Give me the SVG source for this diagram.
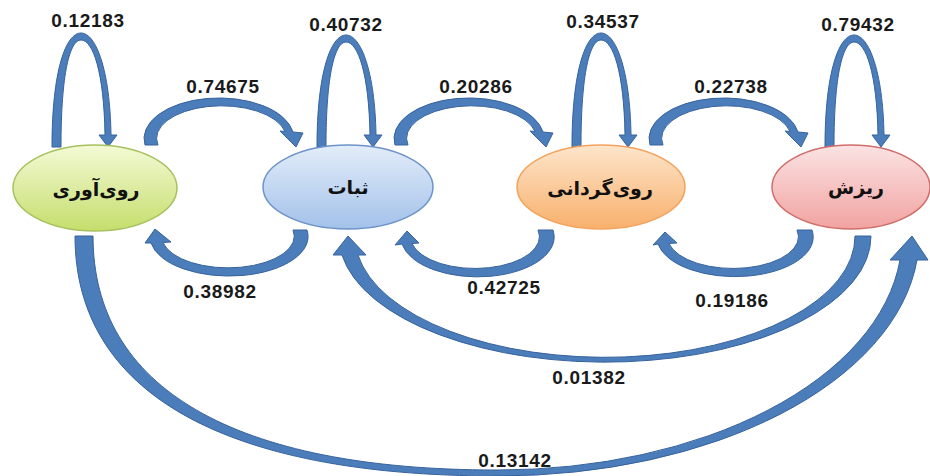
<svg xmlns="http://www.w3.org/2000/svg" width="930" height="476" viewBox="0 0 930 476">
<defs>
<linearGradient id="gGreen" x1="0" y1="0" x2="0" y2="1"><stop offset="0" stop-color="#f4fad6"/><stop offset="1" stop-color="#c5de6c"/></linearGradient>
<linearGradient id="gBlue" x1="0" y1="0" x2="0" y2="1"><stop offset="0" stop-color="#e3edf9"/><stop offset="1" stop-color="#a3c1ea"/></linearGradient>
<linearGradient id="gOrange" x1="0" y1="0" x2="0" y2="1"><stop offset="0" stop-color="#fde5cb"/><stop offset="1" stop-color="#f8b06c"/></linearGradient>
<linearGradient id="gRed" x1="0" y1="0" x2="0" y2="1"><stop offset="0" stop-color="#fbe3e3"/><stop offset="1" stop-color="#f1a3a1"/></linearGradient>
<style>
.arrow{fill:#4a7dba;stroke:#37629c;stroke-width:1;stroke-linejoin:round}
.lbl{font-family:"Liberation Sans",Arial,sans-serif;font-weight:bold;font-size:19px;fill:#1a1a1a;text-anchor:middle;letter-spacing:0.7px}
.ntxt{font-family:"DejaVu Sans",sans-serif;font-weight:bold;font-size:19px;fill:#111;text-anchor:middle}
</style>
</defs>
<rect width="930" height="476" fill="#ffffff"/>
<g id="connectors">
  <g id="loop-ruyavari">
    <path class="arrow" d="M52,147 C52,70 66,33 81,33 C96,33 110,70 111,135 L117,135 L108,147 L99,135 L105,135 C104,72 93,40 81,40 C70,40 61,72 61,147 Z"/>
    <text class="lbl" x="88" y="27">0.12183</text>
  </g>
  <g id="loop-sabat">
    <path class="arrow" transform="translate(265,2)" d="M52,145 C52,70 66,33 81,33 C96,33 110,70 111,133 L117,133 L108,145 L99,133 L105,133 C104,72 93,40 81,40 C70,40 61,72 61,145 Z"/>
    <text class="lbl" x="346" y="31">0.40732</text>
  </g>
  <g id="loop-ruygardani">
    <path class="arrow" transform="translate(520,0)" d="M52,147 C52,70 66,33 81,33 C96,33 110,70 111,135 L117,135 L108,147 L99,135 L105,135 C104,72 93,40 81,40 C70,40 61,72 61,147 Z"/>
    <text class="lbl" x="603" y="28">0.34537</text>
  </g>
  <g id="loop-rizesh">
    <path class="arrow" transform="translate(773,2)" d="M52,145 C52,70 66,33 81,33 C96,33 110,70 111,133 L117,133 L108,145 L99,133 L105,133 C104,72 93,40 81,40 C70,40 61,72 61,145 Z"/>
    <text class="lbl" x="858" y="31">0.79432</text>
  </g>
  <g id="edge-ruyavari-sabat">
    <path class="arrow" d="M145,145 A74,40 0 0 1 293,132 L303,133 L296,147 L280,131 L285,131.5 A64,32 0 0 0 158,145 Z"/>
    <text class="lbl" x="223" y="93">0.74675</text>
  </g>
  <g id="edge-sabat-ruygardani">
    <path class="arrow" transform="translate(250,0)" d="M145,145 A74,40 0 0 1 293,132 L303,133 L296,147 L280,131 L285,131.5 A64,32 0 0 0 158,145 Z"/>
    <text class="lbl" x="476" y="93">0.20286</text>
  </g>
  <g id="edge-ruygardani-rizesh">
    <path class="arrow" transform="translate(505,0)" d="M145,145 A74,40 0 0 1 293,132 L303,133 L296,147 L280,131 L285,131.5 A64,32 0 0 0 158,145 Z"/>
    <text class="lbl" x="731" y="93">0.22738</text>
  </g>
  <g id="edge-sabat-ruyavari">
    <path class="arrow" d="M307,230 A78,39 0 0 1 151,243 L145,243 L155,229 L171,242 L163,242.5 A65,31 0 0 0 293,230 Z"/>
    <text class="lbl" x="220" y="298">0.38982</text>
  </g>
  <g id="edge-ruygardani-sabat">
    <path class="arrow" d="M553,230 A75,39 0 0 1 402,244 L395,245 L407,231 L419,243 L412,243.5 A63,31 0 0 0 538,230 Z"/>
    <text class="lbl" x="504" y="294">0.42725</text>
  </g>
  <g id="edge-rizesh-ruygardani">
    <path class="arrow" d="M812,230 A77,39 0 0 1 658,244 L653,245 L665,232 L677,243 L669,243.5 A64,31 0 0 0 797,230 Z"/>
    <text class="lbl" x="732" y="307">0.19186</text>
  </g>
  <g id="edge-rizesh-sabat">
    <path class="arrow" d="M871,236 A266,126 0 0 1 342,255 L333,255 L348,236 L366,255 L358,255 A250,121 0 0 0 855,236 Z"/>
    <text class="lbl" x="589" y="384">0.01382</text>
  </g>
  <g id="edge-ruyavari-rizesh">
    <path class="arrow" d="M75,236 C75,392 223,476 497,476 A421,240 0 0 0 917,260 L928,260 L912,236 L890,260 L900,260 A404,234 0 0 1 497,470 C234,470 93,388 93,236 Z"/>
    <text class="lbl" x="515" y="467">0.13142</text>
  </g>
</g>
<g id="node-ruyavari">
  <ellipse cx="95" cy="188" rx="82" ry="43" fill="url(#gGreen)" stroke="#a6c25e" stroke-width="1.5"/>
  <text class="ntxt" x="96" y="196">روی‌آوری</text>
</g>
<g id="node-sabat">
  <ellipse cx="348" cy="187" rx="85" ry="42" fill="url(#gBlue)" stroke="#6d93c8" stroke-width="1.5"/>
  <text class="ntxt" x="348" y="194">ثبات</text>
</g>
<g id="node-ruygardani">
  <ellipse cx="601" cy="187" rx="84" ry="42" fill="url(#gOrange)" stroke="#f2a35c" stroke-width="1.5"/>
  <text class="ntxt" x="600" y="195">روی‌گردانی</text>
</g>
<g id="node-rizesh">
  <ellipse cx="851" cy="187" rx="79" ry="42" fill="url(#gRed)" stroke="#cf6e6b" stroke-width="1.5"/>
  <text class="ntxt" x="856" y="194">ریزش</text>
</g>
</svg>
